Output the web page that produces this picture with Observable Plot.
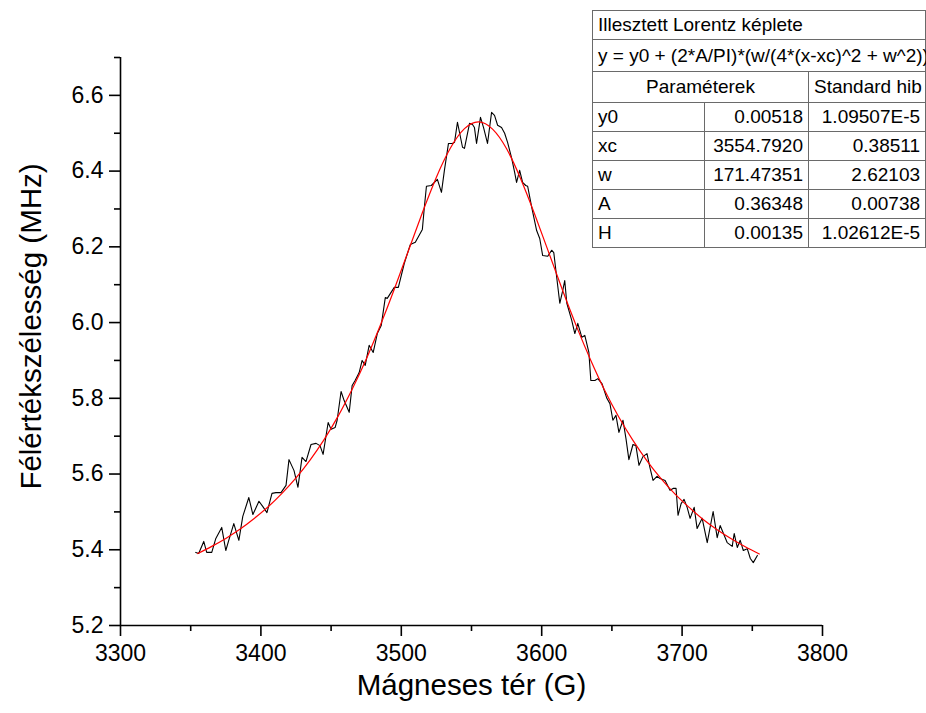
<!DOCTYPE html>
<html>
<head>
<meta charset="utf-8">
<script src="https://cdn.jsdelivr.net/npm/d3@7"></script>
<script src="https://cdn.jsdelivr.net/npm/@observablehq/plot@0.6"></script>
<style>
  html, body { margin: 0; padding: 0; background: #fff; overflow: hidden; }
  #wrap { position: relative; width: 926px; height: 713px; overflow: hidden; font-family: "Liberation Sans", Arial, sans-serif; }
  #fit-table { position: absolute; left: 592px; top: 10px; border-collapse: collapse; table-layout: fixed; width: 333px; font-size: 19px; color: #000; }
  #fit-table td { border: 1px solid #6a6a6a; padding: 0 5px; height: 28px; white-space: nowrap; overflow: visible; line-height: 28px; }
  #fit-table td.num { text-align: right; }
  #fit-table td.c { text-align: center; }
</style>
</head>
<body>
<div id="wrap"></div>
<script>
// Measured points (Mágneses tér in G, Félértékszélesség in MHz)
const fieldG = [3353.6,3355.7,3359.3,3361.4,3365.0,3367.9,3372.1,3375.0,3377.1,3380.7,3384.3,3387.1,3391.4,3394.3,3398.6,3401.4,3404.3,3407.9,3410.7,3414.3,3417.9,3420.0,3423.6,3426.4,3429.3,3432.1,3435.7,3439.3,3442.1,3444.3,3447.9,3450.0,3452.9,3454.3,3457.1,3459.3,3462.9,3465.0,3467.1,3470.0,3472.1,3474.3,3477.1,3480.0,3482.9,3485.7,3488.6,3490.0,3495.0,3497.9,3502.1,3506.4,3510.0,3515.0,3516.4,3517.9,3521.4,3525.7,3528.6,3530.7,3533.6,3536.4,3537.9,3540.0,3543.6,3545.0,3548.6,3550.7,3552.1,3553.6,3556.4,3558.6,3561.4,3564.3,3566.4,3568.6,3571.4,3573.6,3575.7,3578.6,3580.7,3582.1,3584.3,3586.4,3588.6,3590.0,3592.9,3596.4,3598.6,3600.7,3604.3,3607.1,3608.6,3610.7,3612.9,3615.0,3616.4,3617.9,3621.4,3623.6,3625.7,3628.6,3630.7,3633.6,3635.0,3637.9,3640.0,3642.9,3646.4,3648.6,3650.7,3652.9,3655.0,3657.9,3660.0,3662.1,3665.0,3667.1,3669.3,3672.1,3675.0,3677.1,3679.3,3682.1,3684.3,3687.9,3691.4,3693.6,3695.7,3697.1,3699.3,3701.4,3703.6,3705.7,3708.6,3710.7,3714.3,3717.9,3722.1,3725.0,3727.1,3732.1,3735.7,3737.1,3739.3,3741.4,3743.6,3746.4,3748.6,3750.7,3753.6];
const widthMHz = [5.393,5.390,5.422,5.393,5.393,5.430,5.459,5.398,5.425,5.469,5.425,5.488,5.538,5.493,5.528,5.514,5.498,5.549,5.551,5.551,5.570,5.638,5.609,5.565,5.644,5.633,5.678,5.681,5.675,5.652,5.736,5.718,5.723,5.742,5.818,5.794,5.763,5.834,5.847,5.868,5.900,5.887,5.940,5.921,5.971,5.992,6.066,6.064,6.093,6.093,6.156,6.206,6.212,6.246,6.304,6.360,6.362,6.378,6.344,6.402,6.473,6.473,6.476,6.529,6.463,6.460,6.526,6.523,6.515,6.473,6.542,6.515,6.473,6.555,6.547,6.521,6.515,6.500,6.476,6.434,6.397,6.370,6.402,6.370,6.362,6.360,6.304,6.243,6.222,6.177,6.175,6.191,6.185,6.119,6.051,6.085,6.111,6.051,6.006,5.971,5.998,5.961,5.966,5.921,5.847,5.847,5.852,5.839,5.800,5.786,5.742,5.755,5.710,5.742,5.694,5.638,5.678,5.675,5.623,5.646,5.654,5.617,5.583,5.594,5.588,5.583,5.557,5.562,5.562,5.491,5.522,5.533,5.512,5.483,5.512,5.456,5.483,5.419,5.501,5.432,5.464,5.419,5.409,5.443,5.406,5.425,5.398,5.403,5.377,5.366,5.385];

// Fitted Lorentz curve
const fitG = [3355,3365,3375,3385,3395,3405,3415,3425,3435,3445,3455,3465,3475,3485,3495,3505,3515,3525,3535,3545,3555,3565,3575,3585,3595,3605,3615,3625,3635,3645,3655,3665,3675,3685,3695,3705,3715,3725,3735,3745,3755];
const fitMHz = [5.390,5.409,5.430,5.454,5.482,5.513,5.549,5.590,5.637,5.691,5.753,5.824,5.903,5.992,6.088,6.189,6.290,6.384,6.461,6.512,6.530,6.511,6.459,6.380,6.286,6.185,6.084,5.988,5.900,5.820,5.750,5.689,5.635,5.588,5.547,5.512,5.480,5.453,5.429,5.408,5.389];

const xTicks = [3300,3400,3500,3600,3700,3800];
const xMinorTicks = [3350,3450,3550,3650,3750];
const yTicks = [5.2,5.4,5.6,5.8,6.0,6.2,6.4,6.6];
const yMinorTicks = [5.3,5.5,5.7,5.9,6.1,6.3,6.5,6.7];

const xTitle = "Mágneses tér (G)";
const yTitle = "Félértékszélesség (MHz)";

const tableTitle = "Illesztett Lorentz képlete";
const tableFormula = "y = y0 + (2*A/PI)*(w/(4*(x-xc)^2 + w^2))";
const tableHeaders = ["Paraméterek", "Standard hib"];
const paramNames = ["y0","xc","w","A","H"];
const paramValues = ["0.00518","3554.7920","171.47351","0.36348","0.00135"];
const paramErrors = ["1.09507E-5","0.38511","2.62103","0.00738","1.02612E-5"];

const measured = fieldG.map((g, i) => ({g, v: widthMHz[i]}));
const fitted = fitG.map((g, i) => ({g, v: fitMHz[i]}));

const font = "'Liberation Sans', Arial, sans-serif";

const chart = Plot.plot({
  width: 926,
  height: 713,
  marginLeft: 120,
  marginRight: 104,
  marginTop: 57,
  marginBottom: 88,
  style: {fontFamily: font, color: "#000", background: "#fff", overflow: "visible"},
  x: {domain: [3300, 3800]},
  y: {domain: [5.2, 6.7]},
  marks: [
    Plot.axisX({ticks: xTicks, tickSize: 11, tickPadding: 8, fontSize: 23, label: null, stroke: "#000", strokeWidth: 1.6, tickFormat: d3.format("d")}),
    Plot.axisX({ticks: xMinorTicks, tickSize: 6, label: null, stroke: "#000", strokeWidth: 1.6, tickFormat: () => ""}),
    Plot.axisY({ticks: yTicks, tickSize: 11, tickPadding: 6, fontSize: 23, label: null, stroke: "#000", strokeWidth: 1.6, tickFormat: d3.format(".1f")}),
    Plot.axisY({ticks: yMinorTicks, tickSize: 6, label: null, stroke: "#000", strokeWidth: 1.6, tickFormat: () => ""}),
    Plot.ruleX([3300], {stroke: "#000", strokeWidth: 1.6}),
    Plot.ruleY([5.2], {stroke: "#000", strokeWidth: 1.6}),
    Plot.line(measured, {x: "g", y: "v", stroke: "#000", strokeWidth: 1.1}),
    Plot.line(fitted, {x: "g", y: "v", stroke: "#ff0000", strokeWidth: 1.2, curve: "natural"}),
    Plot.text([xTitle], {frameAnchor: "bottom", dy: 69, fontSize: 29.5, fill: "#000"}),
    Plot.text([yTitle], {frameAnchor: "left", textAnchor: "middle", dx: -89, dy: -15, rotate: -90, fontSize: 29.5, fill: "#000"})
  ]
});

const wrap = document.getElementById("wrap");
wrap.appendChild(chart);

// Fit parameters table
const table = document.createElement("table");
table.id = "fit-table";
const colgroup = document.createElement("colgroup");
[112, 104, 117].forEach(w => { const c = document.createElement("col"); c.style.width = w + "px"; colgroup.appendChild(c); });
table.appendChild(colgroup);
function addRow(cells) {
  const tr = document.createElement("tr");
  cells.forEach(([text, cls, span]) => {
    const td = document.createElement("td");
    td.textContent = text;
    if (cls) td.className = cls;
    if (span) td.colSpan = span;
    tr.appendChild(td);
  });
  table.appendChild(tr);
  return tr;
}
addRow([[tableTitle, "", 3]]);
addRow([[tableFormula, "", 3]]).firstChild.style.height = "31px";
addRow([[tableHeaders[0], "c", 2], [tableHeaders[1], "", 1]]).childNodes.forEach(td => td.style.height = "30px");
paramNames.forEach((n, i) => addRow([[n, ""], [paramValues[i], "num"], [paramErrors[i], "num"]]));
wrap.appendChild(table);
</script>
</body>
</html>
